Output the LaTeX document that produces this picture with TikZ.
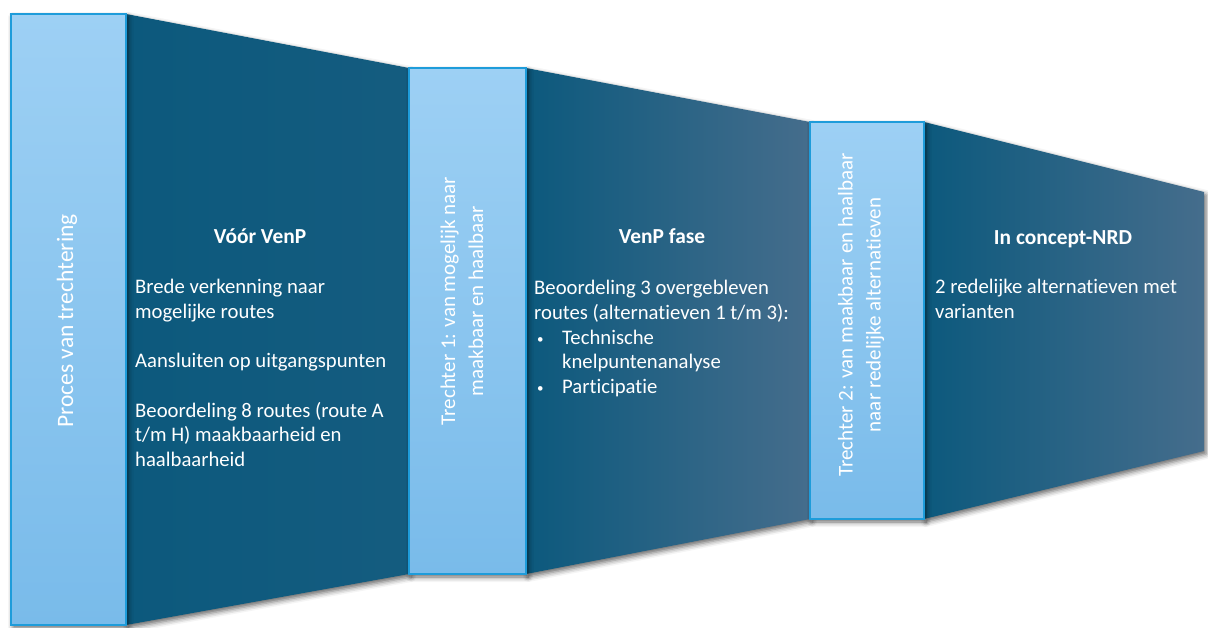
\documentclass[tikz,border=0pt]{standalone}
\usepackage{fontspec}
\setmainfont[Ligatures=NoCommon]{Carlito}
\usetikzlibrary{shadows.blur}

% the three phases of the funnel and the two gates between them
\def\voorfase{(126,14) -- (409,68) -- (409,574) -- (126,625) -- cycle}
\def\venpfase{(526,68) -- (810,122) -- (810,519) -- (526,574) -- cycle}
\def\nrdfase{(924,122) -- (1204,192) -- (1204,451) -- (924,519) -- cycle}
\def\procesbar{(11,14) rectangle (126,625)}
\def\trechtereen{(409,68) rectangle (526,574)}
\def\trechtertwee{(810,122) rectangle (924,519)}
\newcommand\opsom{\hspace*{3pt}\makebox[25pt][l]{\fontsize{13}{13}\selectfont\raisebox{1pt}{•}}}

\definecolor{bar top}{HTML}{9DD0F4}
\definecolor{bar bottom}{HTML}{79BBEA}
\definecolor{bar edge}{HTML}{1E9CDA}
\definecolor{phase left}{HTML}{0C597D}
\definecolor{phase right}{HTML}{456D8C}
\colorlet{phase flat}{phase left!85!phase right}
\tikzset{funnel/.style={blur shadow={shadow xshift=2pt, shadow yshift=-3pt,
        shadow blur radius=5pt, shadow opacity=60}},
    bar/.style={top color=bar top, bottom color=bar bottom, draw=bar edge,
        line width=1.2pt, funnel},
    phase/.style={left color=phase left, right color=#1, funnel},
    heading/.style={text=white, inner sep=0pt, anchor=base,
        font=\bfseries\fontsize{21.4}{25}\selectfont},
    body/.style={text=white, inner sep=0pt, anchor=base west, align=left,
        font=\fontsize{20.7}{24.7}\selectfont},
    side/.style={text=white, inner sep=0pt, rotate=90, align=center,
        font=\fontsize{21}{28}\selectfont}}

\begin{document}
\begin{tikzpicture}[x=1pt, y=-1pt]
        \useasboundingbox (0,0) rectangle (1208,628);

        % Phases
        \path[phase=phase flat] \voorfase;
        \path[phase=phase right] \venpfase;
        \path[phase=phase right] \nrdfase;

        % Gates
        \path[bar] \procesbar;
        \path[bar] \trechtereen;
        \path[bar] \trechtertwee;

        % Gate labels
        \node[side, font=\fontsize{23.5}{28}\selectfont] (proces) at (67,321) {Proces van trechtering};
        \node[side] (trechter1) at (462,301) {Trechter 1: van mogelijk naar\\maakbaar en haalbaar};
        \node[side] (trechter2) at (861,315) {Trechter 2: van maakbaar en haalbaar\\naar redelijke alternatieven};

        % Phase before VenP (text nodes sit on their last baseline)
        \node[heading] (voortitel) at (260,244) {Vóór VenP};
        \node[body] (voortekst) at (135,466.5) {Brede verkenning naar\\mogelijke routes\\[24.7pt]
            Aansluiten op uitgangspunten\\[24.7pt]
            Beoordeling 8 routes (route A\\t/m H) maakbaarheid en\\haalbaarheid};

        % VenP phase
        \node[heading] (venptitel) at (662,244) {VenP fase};
        \node[body] (venptekst) at (534,393.5) {Beoordeling 3 overgebleven\\
            routes (alternatieven 1 t/m 3):\\
            \opsom Technische\\
            \hspace*{28pt}knelpuntenanalyse\\
            \opsom Participatie};

        % Concept-NRD phase
        \node[heading] (nrdtitel) at (1063,245) {In concept-NRD};
        \node[body] (nrdtekst) at (935,318.5) {2 redelijke alternatieven met\\varianten};
    \end{tikzpicture}
\end{document}
